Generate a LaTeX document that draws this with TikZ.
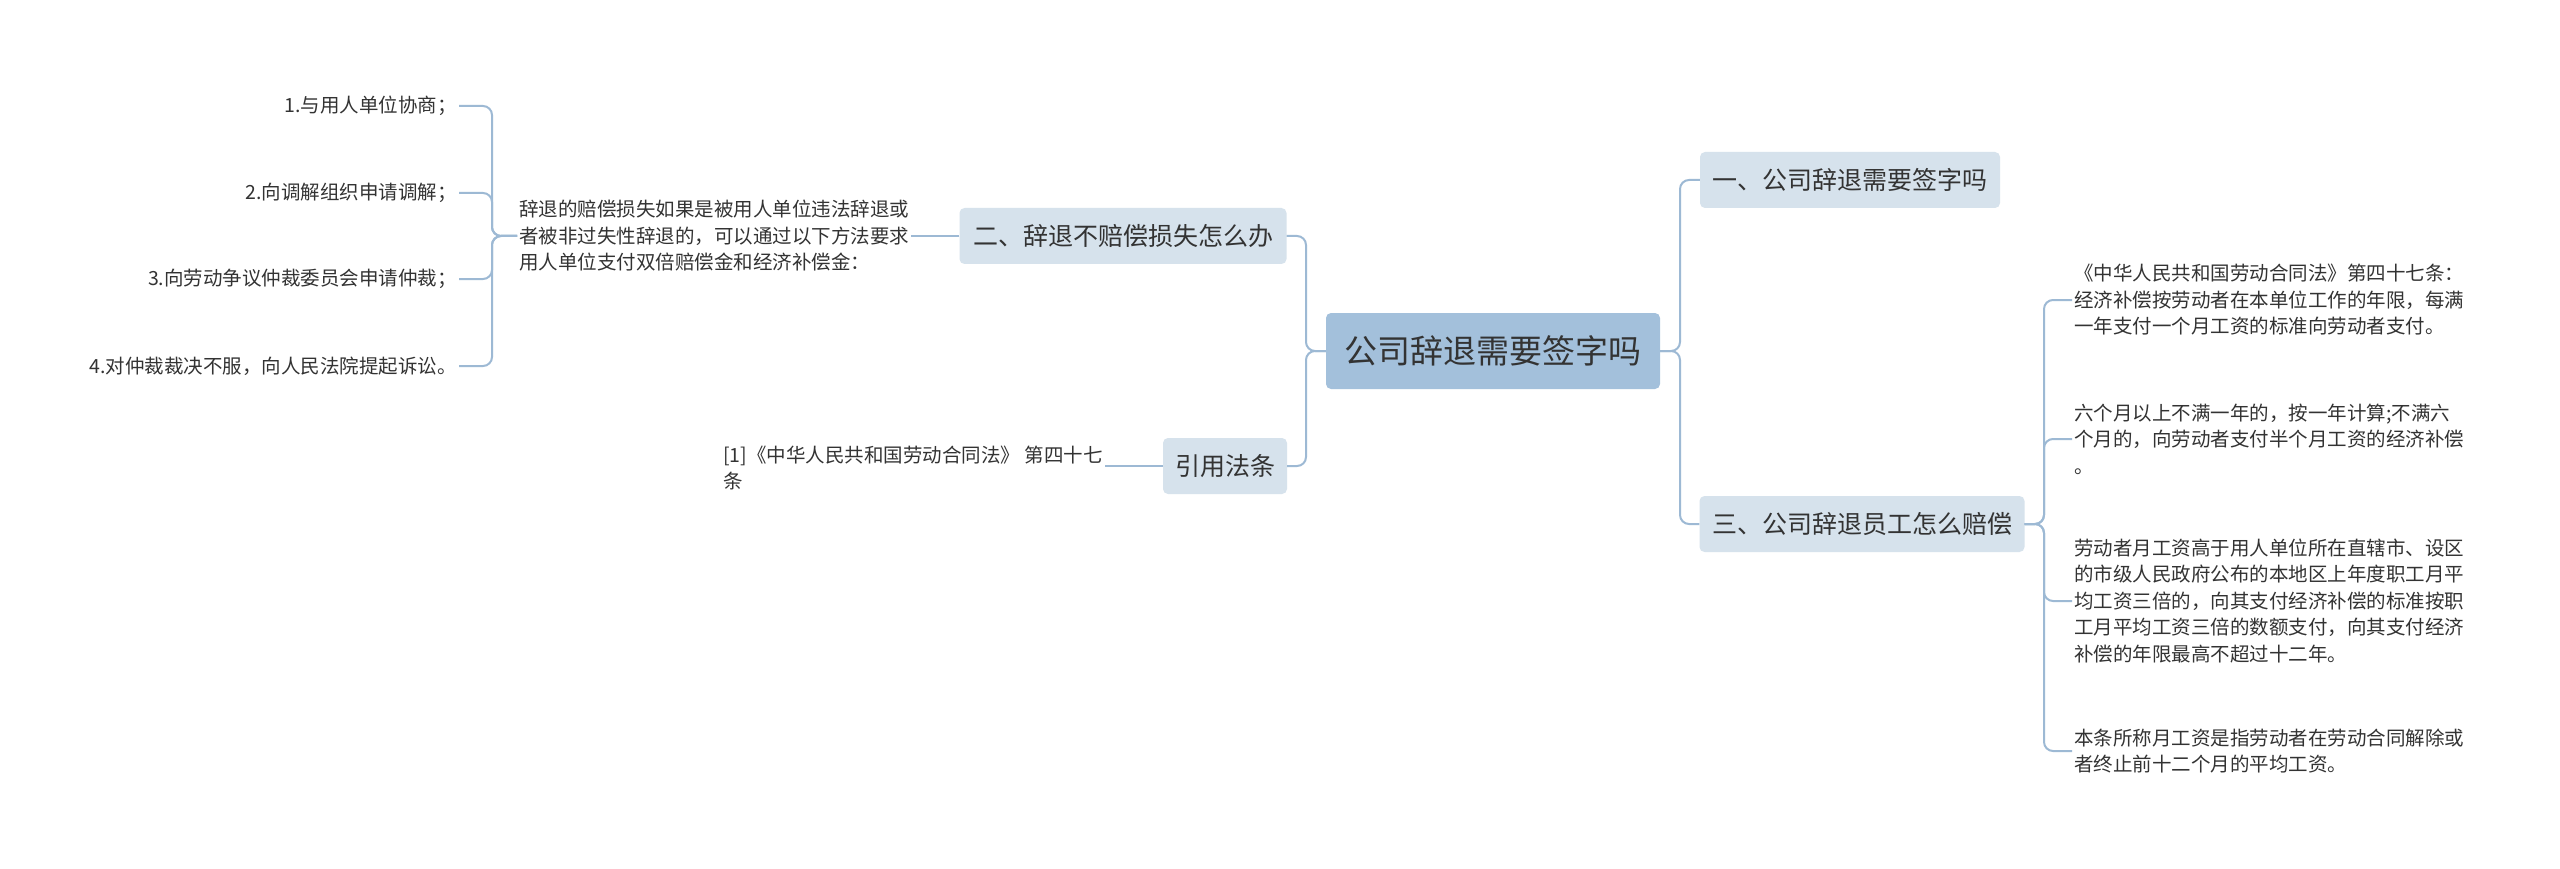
\documentclass[tikz,border=0pt]{standalone}
\usepackage{fontspec}
\setmainfont{Noto Sans CJK SC}
\begin{document}
\begin{tikzpicture}[x=1pt,y=-1pt,
  conn/.style={draw=lnc,line width=2pt,rounded corners=9pt},
  topic/.style={fill=subf,rounded corners=5pt,inner xsep=10pt,minimum height=56pt,text=txt,font=\fontsize{25}{30}\selectfont},
  leaf/.style={text=txt,inner sep=2pt,font=\fontsize{19.5}{26.5}\selectfont,align=left}]
\definecolor{lnc}{HTML}{9DB9D4}
\definecolor{subf}{HTML}{D6E2EC}
\definecolor{rootf}{HTML}{A3C0DB}
\definecolor{txt}{HTML}{333333}
\useasboundingbox[fill=white] (0,0) rectangle (2560,869);
\node[fill=rootf,rounded corners=5pt,text=txt,minimum width=334pt,minimum height=76pt,font=\fontsize{33}{38}\selectfont] (root) at (1493,351) {公司辞退需要签字吗};
\node[topic,minimum width=300pt] (c1) at (1850,180) {一、公司辞退需要签字吗};
\node[topic,minimum width=325pt] (c3) at (1862,524) {三、公司辞退员工怎么赔偿};
\node[topic,minimum width=327pt] (c2) at (1123,236) {二、辞退不赔偿损失怎么办};
\node[topic,minimum width=124pt] (c4) at (1225,466) {引用法条};
% left side
\node[leaf,anchor=west] (m) at (517,236) {辞退的赔偿损失如果是被用人单位违法辞退或\\者被非过失性辞退的，可以通过以下方法要求\\用人单位支付双倍赔偿金和经济补偿金：};
\node[leaf,anchor=east] (l1) at (459,106) {1.与用人单位协商；};
\node[leaf,anchor=east] (l2) at (459,193) {2.向调解组织申请调解；};
\node[leaf,anchor=east] (l3) at (459,279) {3.向劳动争议仲裁委员会申请仲裁；};
\node[leaf,anchor=east] (l4) at (459,366) {4.对仲裁裁决不服，向人民法院提起诉讼。};
\node[leaf,anchor=west] (r) at (721,468) {[1]《中华人民共和国劳动合同法》 第四十七\\条};
% right side
\node[leaf,anchor=west] (a1) at (2072,300) {《中华人民共和国劳动合同法》第四十七条：\\经济补偿按劳动者在本单位工作的年限，每满\\一年支付一个月工资的标准向劳动者支付。};
\node[leaf,anchor=west] (a2) at (2072,439) {六个月以上不满一年的，按一年计算;不满六\\个月的，向劳动者支付半个月工资的经济补偿\\。};
\node[leaf,anchor=west] (a3) at (2072,601) {劳动者月工资高于用人单位所在直辖市、设区\\的市级人民政府公布的本地区上年度职工月平\\均工资三倍的，向其支付经济补偿的标准按职\\工月平均工资三倍的数额支付，向其支付经济\\补偿的年限最高不超过十二年。};
\node[leaf,anchor=west] (a4) at (2072,751) {本条所称月工资是指劳动者在劳动合同解除或\\者终止前十二个月的平均工资。};
\coordinate (jr) at (1680,351);
\coordinate (jl) at (1306,351);
\coordinate (j3) at (2044,524);
\coordinate (jm) at (492,236);
% connectors
\draw[conn] (root.east) -- (jr) |- (c1.west);
\draw[conn] (root.east) -- (jr) |- (c3.west);
\draw[conn] (root.west) -- (jl) |- (c2.east);
\draw[conn] (root.west) -- (jl) |- (c4.east);
\draw[conn] (c2.west) -- (m.east);
\draw[conn] (c4.west) -- (r.east |- c4.west);
\draw[conn] (m.west) -- (jm) |- (l1.east);
\draw[conn] (m.west) -- (jm) |- (l2.east);
\draw[conn] (m.west) -- (jm) |- (l3.east);
\draw[conn] (m.west) -- (jm) |- (l4.east);
\draw[conn] (c3.east) -- (j3) |- (a1.west);
\draw[conn] (c3.east) -- (j3) |- (a2.west);
\draw[conn] (c3.east) -- (j3) |- (a3.west);
\draw[conn] (c3.east) -- (j3) |- (a4.west);
\end{tikzpicture}
\end{document}
